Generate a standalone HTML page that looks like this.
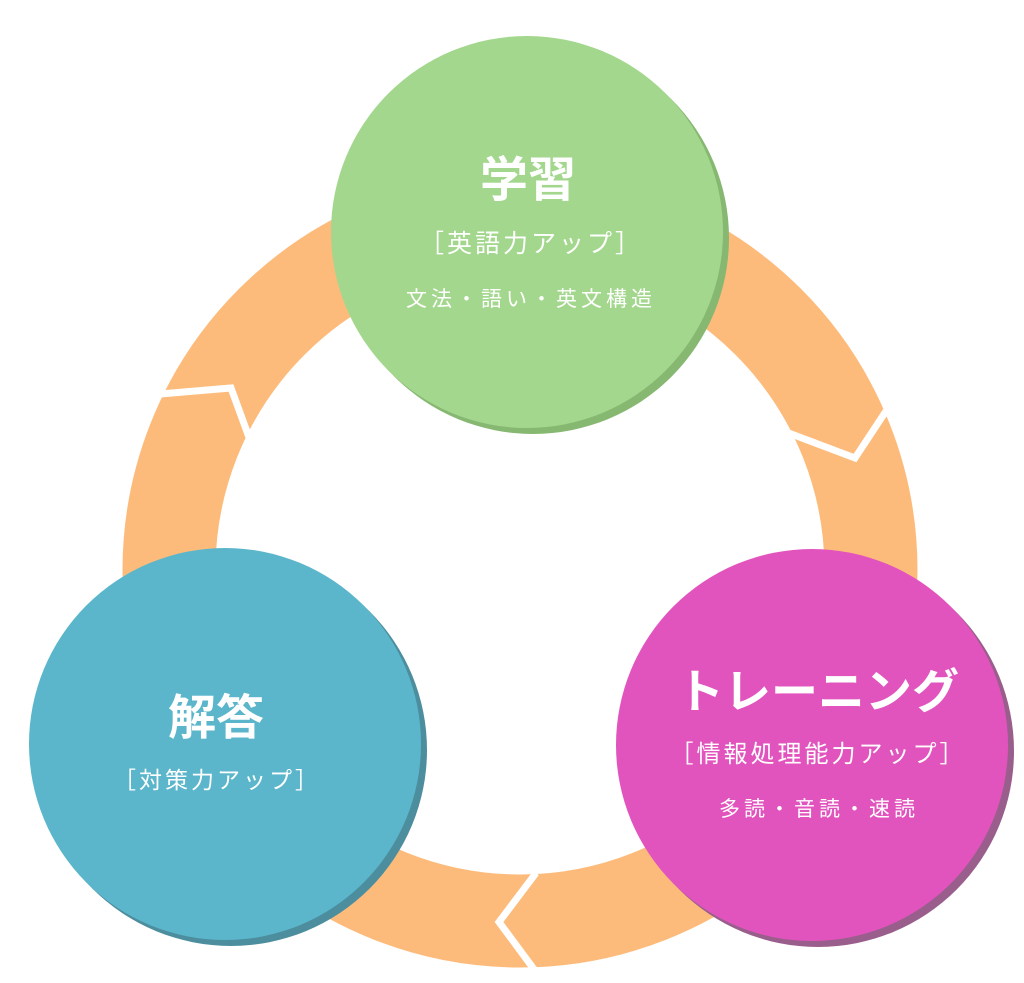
<!DOCTYPE html>
<html><head><meta charset="utf-8"><style>
html,body{margin:0;padding:0;background:#fff;}
</style></head><body>
<svg width="1024" height="983" viewBox="0 0 1024 983" xmlns="http://www.w3.org/2000/svg" style="display:block">
<defs>
<style>
text{font-family:"Liberation Sans","Noto Sans CJK JP",sans-serif;fill:#fff;text-anchor:middle;}
</style>
</defs>
<circle cx="520" cy="570" r="351" fill="none" stroke="#FDBB7B" stroke-width="93"/>
<g fill="none" stroke="#fff" stroke-width="7" stroke-linejoin="miter">
<polyline points="160,394 231,388 250,440"/>
<polyline points="786,432 855,458 886,411"/>
<polyline points="536,873 499,922 536,972"/>
</g>
<circle cx="533" cy="238" r="196" fill="#86B872"/>
<circle cx="527" cy="232" r="196" fill="#A3D78D"/>
<circle cx="231" cy="750" r="196" fill="#4C8E9E"/>
<circle cx="225" cy="744" r="196" fill="#5BB6CB"/>
<circle cx="818" cy="751" r="196" fill="#9A5E8C"/>
<circle cx="812" cy="745" r="196" fill="#E254BD"/>
<text x="528" y="196" font-size="48" font-weight="bold">学習</text>
<text x="531" y="252" font-size="25" letter-spacing="3">［英語力アップ］</text>
<text x="531" y="306" font-size="21" letter-spacing="4">文法・語い・英文構造</text>
<text x="818" y="708" font-size="47" font-weight="bold">トレーニング</text>
<text x="818" y="762" font-size="24" letter-spacing="3">［情報処理能力アップ］</text>
<text x="819" y="816" font-size="21" letter-spacing="4">多読・音読・速読</text>
<text x="216" y="734" font-size="48" font-weight="bold">解答</text>
<text x="217" y="788" font-size="23" letter-spacing="3">［対策力アップ］</text>
</svg>
</body></html>
